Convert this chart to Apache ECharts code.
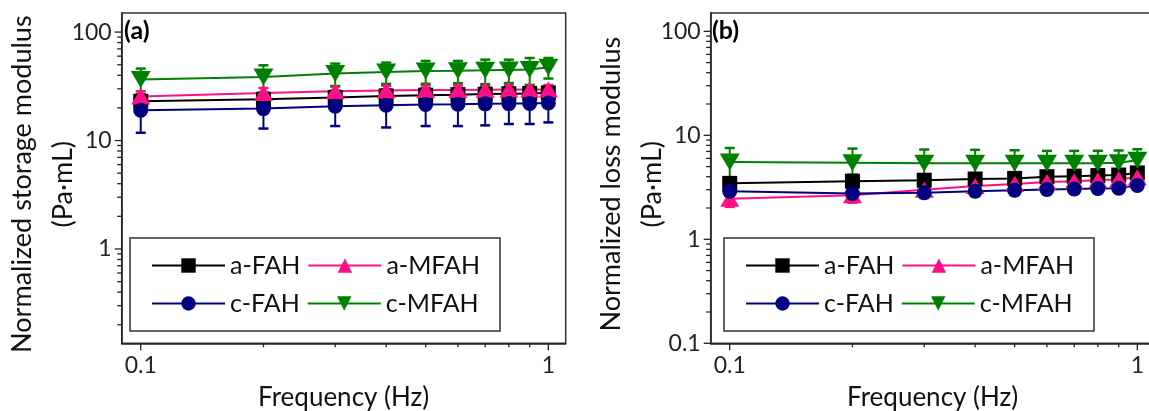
<!DOCTYPE html>
<html><head><meta charset="utf-8">
<script src="https://cdn.jsdelivr.net/npm/echarts@6/dist/echarts.min.js"></script>
<style>html,body{margin:0;padding:0;background:#fff}#c{width:1149px;height:411px}</style>
</head><body><div id="c"></div>
<script>
// ---------- data ----------
const freq = [0.1, 0.2, 0.3, 0.4, 0.5, 0.6, 0.7, 0.8, 0.9, 1.0];
const seriesNames = ['a-FAH', 'a-MFAH', 'c-FAH', 'c-MFAH'];

// (a) normalized storage modulus (Pa·mL)
const storage_aFAH  = [23.0, 24.0, 25.0, 25.8, 26.2, 26.5, 26.8, 27.0, 27.2, 27.5];
const storage_aMFAH = [25.5, 27.5, 28.5, 29.0, 29.2, 29.3, 29.4, 29.5, 29.5, 29.5];
const storage_cFAH  = [19.0, 19.7, 20.7, 21.2, 21.5, 21.6, 21.8, 21.9, 22.0, 22.2];
const storage_cMFAH = [36.5, 38.5, 41.5, 42.8, 43.8, 44.0, 44.4, 44.8, 45.1, 47.5];
const storageErr_aFAH  = [3.5, 3.5, 3.8, 3.8, 4.0, 4.0, 4.0, 4.0, 4.0, 4.0];
const storageErr_aMFAH = [3.0, 3.0, 3.0, 3.0, 3.0, 3.0, 3.0, 3.0, 3.0, 3.0];
const storageErr_cFAH  = [7.2, 6.8, 7.1, 8.0, 7.9, 8.0, 8.0, 7.7, 7.8, 7.5];
const storageErr_cMFAH = [9.6, 10.9, 9.7, 9.5, 10.4, 10.2, 11.3, 10.9, 12.6, 10.2];

// (b) normalized loss modulus (Pa·mL)
const loss_aFAH  = [3.45, 3.62, 3.70, 3.80, 3.85, 4.00, 4.05, 4.10, 4.15, 4.35];
const loss_aMFAH = [2.45, 2.65, 3.00, 3.25, 3.40, 3.55, 3.62, 3.70, 3.78, 3.95];
const loss_cFAH  = [2.90, 2.75, 2.80, 2.90, 2.97, 3.02, 3.05, 3.08, 3.10, 3.30];
const loss_cMFAH = [5.55, 5.45, 5.40, 5.40, 5.38, 5.38, 5.38, 5.40, 5.45, 5.75];
const lossErr_aFAH  = [0.50, 0.55, 0.50, 0.50, 0.50, 0.50, 0.50, 0.50, 0.50, 0.50];
const lossErr_aMFAH = [0.40, 0.40, 0.45, 0.50, 0.50, 0.55, 0.55, 0.60, 0.60, 0.65];
const lossErr_cFAH  = [0.30, 0.30, 0.30, 0.30, 0.30, 0.30, 0.30, 0.30, 0.30, 0.30];
const lossErr_cMFAH = [2.00, 2.00, 1.90, 1.85, 1.80, 1.70, 1.70, 1.70, 1.70, 1.60];

// axis ticks
const xMajorTicks = [0.1, 1];
const xMinorTicks = [0.2, 0.3, 0.4, 0.5, 0.6, 0.7, 0.8, 0.9];
const yMajorTicksA = [1, 10, 100];
const yMajorTicksB = [0.1, 1, 10, 100];
const yMinorTicks = [0.2, 0.3, 0.4, 0.5, 0.6, 0.7, 0.8, 0.9, 2, 3, 4, 5, 6, 7, 8, 9, 20, 30, 40, 50, 60, 70, 80, 90];

// axis ranges
const xRange = [0.0898, 1.103];
const yRangeA = [0.135, 150];
const yRangeB = [0.1, 150];

// ---------- styling ----------
const FONT = 'Lato';
const AXIS_COLOR = '#222';
const styles = {
  'a-FAH':  {color: '#000000', symbol: 'rect', size: 15},
  'a-MFAH': {color: '#ff0f87', symbol: 'path://M1,0 L2,1.7 L0,1.7 Z', size: [19, 16]},
  'c-FAH':  {color: '#000080', symbol: 'circle', size: 15},
  'c-MFAH': {color: '#008000', symbol: 'path://M0,0 L2,0 L1,1.7 Z', size: [20, 17]}
};

function isPow10(v) { const l = Math.log10(v); return Math.abs(l - Math.round(l)) < 1e-6; }

function lineSeries(name, values, g) {
  const s = styles[name];
  return {
    type: 'line', name, xAxisIndex: g, yAxisIndex: g,
    data: freq.map((f, i) => [f, values[i]]),
    symbol: s.symbol, symbolSize: s.size, showSymbol: true,
    lineStyle: {color: s.color, width: 2},
    itemStyle: {color: s.color, borderWidth: 0},
    emphasis: {disabled: true}, animation: false
  };
}
function errSeries(name, values, errs, g) {
  const color = styles[name].color;
  return {
    type: 'custom', name: name + ' error', xAxisIndex: g, yAxisIndex: g, silent: true,
    data: freq.map((f, i) => [f, values[i] - errs[i], values[i] + errs[i]]),
    encode: {x: 0, y: [1, 2]},
    renderItem: function (params, api) {
      const x = api.value(0);
      const lo = api.coord([x, api.value(1)]);
      const hi = api.coord([x, api.value(2)]);
      const w = 5;
      return {type: 'group', children: [
        {type: 'line', shape: {x1: lo[0], y1: lo[1], x2: hi[0], y2: hi[1]}, style: {stroke: color, lineWidth: 2}},
        {type: 'line', shape: {x1: lo[0] - w, y1: lo[1], x2: lo[0] + w, y2: lo[1]}, style: {stroke: color, lineWidth: 2.5}},
        {type: 'line', shape: {x1: hi[0] - w, y1: hi[1], x2: hi[0] + w, y2: hi[1]}, style: {stroke: color, lineWidth: 2.5}}
      ]};
    },
    animation: false
  };
}
function xTickSeries(vals, g, yMin, len) {
  return {
    type: 'custom', name: 'xticks' + g + '_' + len, xAxisIndex: g, yAxisIndex: g, silent: true,
    data: vals.map(v => [v, yMin]), encode: {x: 0, y: 1},
    renderItem: function (params, api) {
      const p = api.coord([api.value(0), api.value(1)]);
      return {type: 'line', shape: {x1: p[0], y1: p[1], x2: p[0], y2: p[1] + len}, style: {stroke: AXIS_COLOR, lineWidth: 1.3}};
    }, animation: false
  };
}
function yTickSeries(vals, g, xMin, len) {
  return {
    type: 'custom', name: 'yticks' + g + '_' + len, xAxisIndex: g, yAxisIndex: g, silent: true,
    data: vals.map(v => [xMin, v]), encode: {x: 0, y: 1},
    renderItem: function (params, api) {
      const p = api.coord([api.value(0), api.value(1)]);
      return {type: 'line', shape: {x1: p[0], y1: p[1], x2: p[0] - len, y2: p[1]}, style: {stroke: AXIS_COLOR, lineWidth: 1.3}};
    }, animation: false
  };
}

function xAxis(g) {
  return {
    type: 'log', logBase: 10, gridIndex: g, min: xRange[0], max: xRange[1],
    name: 'Frequency (Hz)', nameLocation: 'middle', nameGap: 41,
    nameTextStyle: {fontFamily: FONT, fontSize: 26, color: '#111'},
    axisLine: {show: true, lineStyle: {color: AXIS_COLOR, width: 1.5}},
    axisTick: {show: false}, splitLine: {show: false}, minorTick: {show: false},
    axisLabel: {fontFamily: FONT, fontSize: 23, color: '#222', margin: 11,
      formatter: v => isPow10(v) ? String(+v.toPrecision(3)) : ''}
  };
}
function yAxis(g, range, title) {
  return {
    type: 'log', logBase: 10, gridIndex: g, min: range[0], max: range[1],
    name: title + '\n(Pa·mL)', nameLocation: 'middle', nameGap: 38, nameRotate: 90,
    nameMoveOverlap: false,
    nameTextStyle: {fontFamily: FONT, fontSize: 27, color: '#111', lineHeight: 41, padding: [0, 12, 0, 0]},
    axisLine: {show: true, lineStyle: {color: AXIS_COLOR, width: 1.5}},
    axisTick: {show: false}, splitLine: {show: false}, minorTick: {show: false},
    axisLabel: {fontFamily: FONT, fontSize: 23, color: '#222', margin: 10,
      formatter: v => isPow10(v) ? String(+v.toPrecision(3)) : ''}
  };
}
function legend(left) {
  return {
    data: seriesNames, left: left, top: 238, width: 340, orient: 'horizontal',
    itemWidth: 73, itemHeight: 18, itemGap: 7,
    padding: [12, 20, 12, 21], borderColor: '#333', borderWidth: 1.5,
    textStyle: {fontFamily: FONT, fontSize: 25, color: '#111', lineHeight: 31},
    selectedMode: false
  };
}

const series = [];
const dataA = [storage_aFAH, storage_aMFAH, storage_cFAH, storage_cMFAH];
const errA = [storageErr_aFAH, storageErr_aMFAH, storageErr_cFAH, storageErr_cMFAH];
const dataB = [loss_aFAH, loss_aMFAH, loss_cFAH, loss_cMFAH];
const errB = [lossErr_aFAH, lossErr_aMFAH, lossErr_cFAH, lossErr_cMFAH];
seriesNames.forEach((n, i) => {
  series.push(errSeries(n, dataA[i], errA[i], 0));
  series.push(lineSeries(n, dataA[i], 0));
});
seriesNames.forEach((n, i) => {
  series.push(errSeries(n, dataB[i], errB[i], 1));
  series.push(lineSeries(n, dataB[i], 1));
});
series.push(xTickSeries(xMajorTicks, 0, yRangeA[0], 7));
series.push(xTickSeries(xMinorTicks, 0, yRangeA[0], 4));
series.push(xTickSeries(xMajorTicks, 1, yRangeB[0], 7));
series.push(xTickSeries(xMinorTicks, 1, yRangeB[0], 4));
series.push(yTickSeries(yMajorTicksA, 0, xRange[0], 7));
series.push(yTickSeries(yMinorTicks.filter(v => v > yRangeA[0] && v < yRangeA[1]), 0, xRange[0], 4.5));
series.push(yTickSeries(yMajorTicksB, 1, xRange[0], 7));
series.push(yTickSeries(yMinorTicks.filter(v => v > yRangeB[0] && v < yRangeB[1]), 1, xRange[0], 4.5));

const chart = echarts.init(document.getElementById('c'), null, {renderer: 'canvas'});
chart.setOption({
  backgroundColor: '#ffffff',
  animation: false,
  title: [
    {text: '(a)', left: 124, top: 18, padding: 0, textStyle: {fontFamily: FONT, fontWeight: 'bold', fontSize: 25, color: '#000'}},
    {text: '(b)', left: 712, top: 18, padding: 0, textStyle: {fontFamily: FONT, fontWeight: 'bold', fontSize: 25, color: '#000'}}
  ],
  grid: [
    {left: 121.7, top: 13, width: 444, height: 330.3, show: true, borderColor: '#333', borderWidth: 1.5,
     backgroundColor: 'transparent', containLabel: false, outerBoundsMode: 'none'},
    {left: 710.7, top: 13, width: 444, height: 330.3, show: true, borderColor: '#333', borderWidth: 1.5,
     backgroundColor: 'transparent', containLabel: false, outerBoundsMode: 'none'}
  ],
  xAxis: [xAxis(0), xAxis(1)],
  yAxis: [yAxis(0, yRangeA, 'Normalized storage modulus'), yAxis(1, yRangeB, 'Normalized loss modulus')],
  legend: [legend(130), legend(724)],
  series: series
});
</script>
</body></html>
